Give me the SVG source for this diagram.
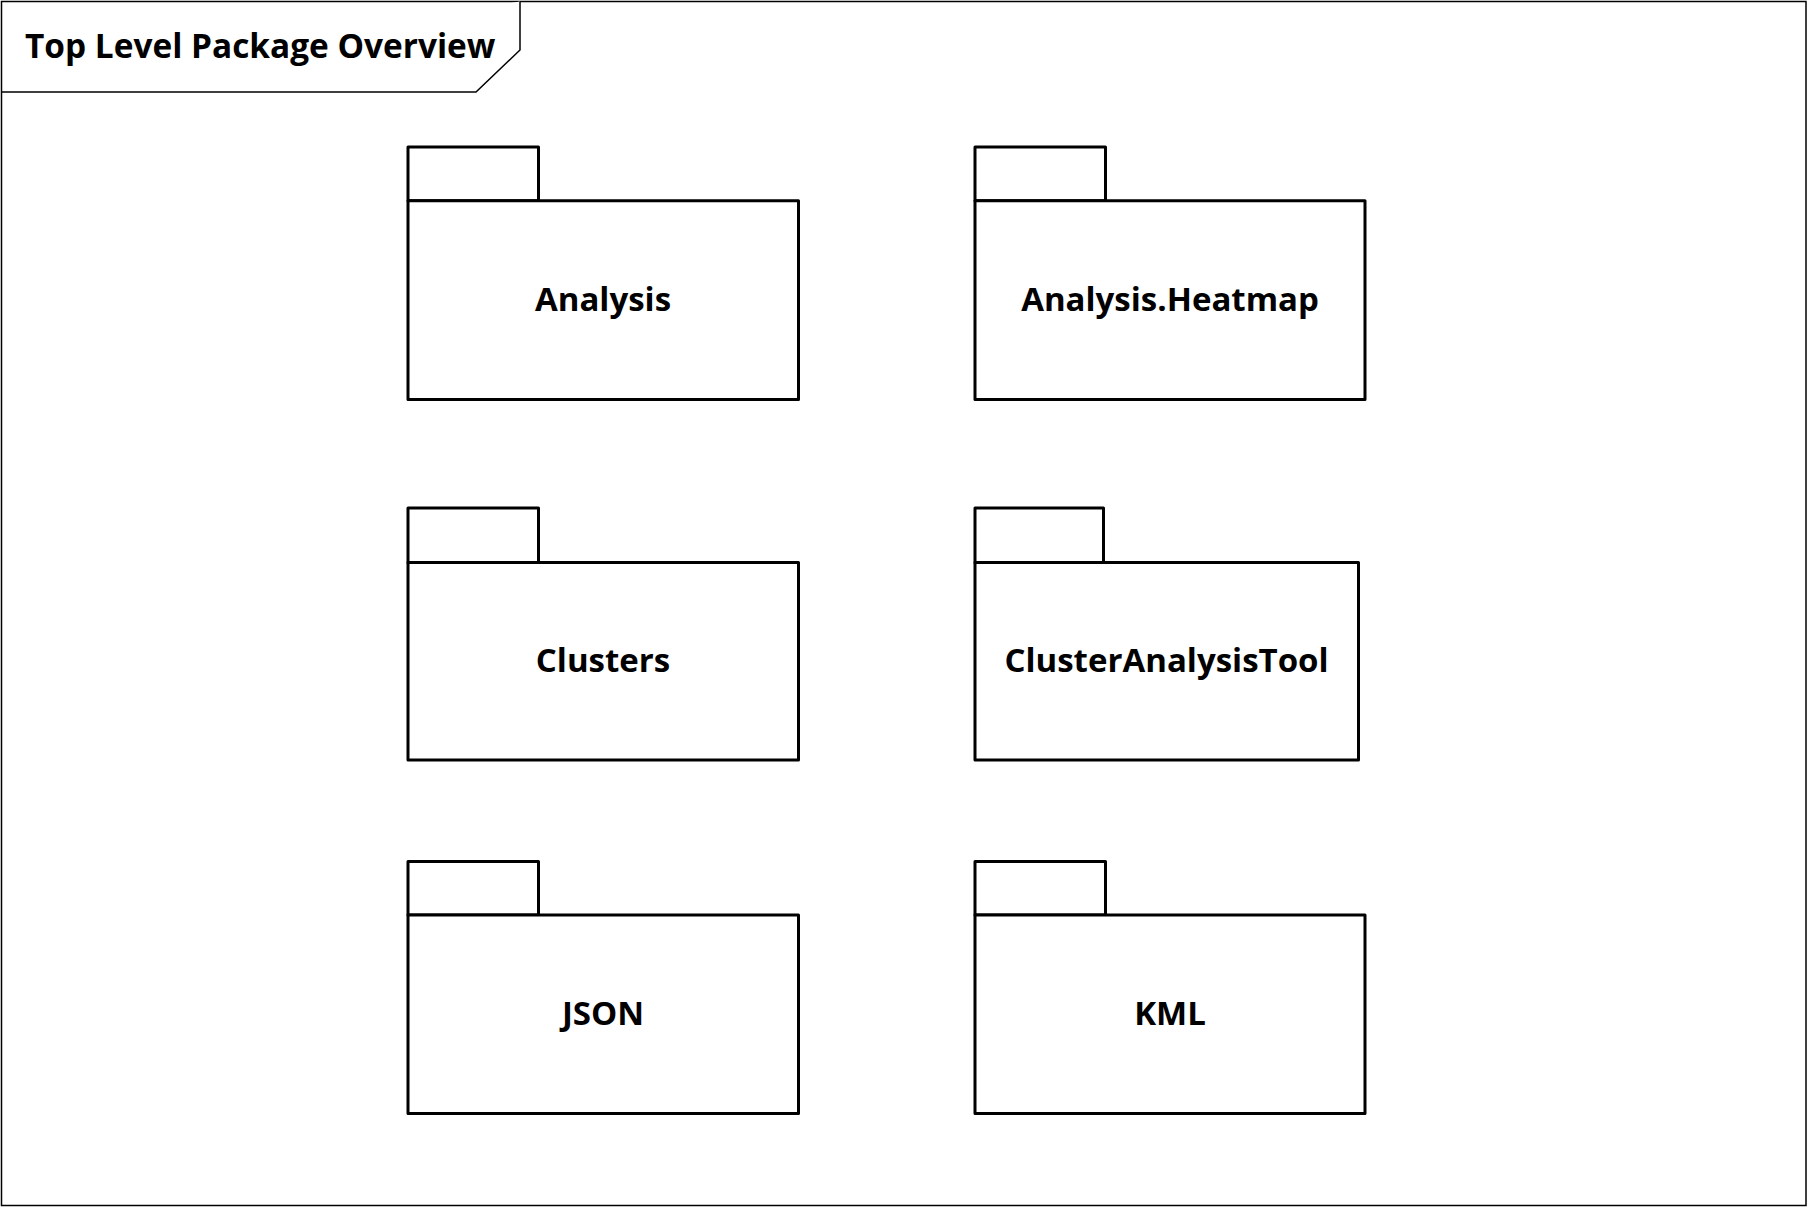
<svg xmlns="http://www.w3.org/2000/svg" width="1808" height="1208" viewBox="0 0 1808 1208">
<style>
.frame{fill:#ffffff;stroke:#000000;stroke-width:1.5}
.pk{fill:#ffffff;stroke:#000000;stroke-width:3;stroke-linejoin:round}
.lbl{font-family:"Open Sans","Noto Sans","Liberation Sans",sans-serif;font-weight:bold;font-size:33px;fill:#000000;text-anchor:middle}
.title{font-family:"Open Sans","Noto Sans","Liberation Sans",sans-serif;font-weight:bold;font-size:33.4px;fill:#000000}
</style>
<rect x="0" y="0" width="1808" height="1208" fill="#ffffff"/>
<g id="frame">
<rect class="frame" x="1.5" y="1.5" width="1804.5" height="1204"/>
<path class="frame" d="M1.5 92 L476 92 L520 50 L520 1.5"/>
<text class="title" x="25" y="58">Top Level Package Overview</text>
</g>
<g id="connectors"></g>
<g id="pkg-analysis">
<rect class="pk" x="408" y="147" width="130.5" height="53.7"/>
<rect class="pk" x="408" y="200.7" width="390.5" height="198.8"/>
<text class="lbl" x="603" y="311">Analysis</text>
</g>
<g id="pkg-heatmap">
<rect class="pk" x="975" y="147" width="130.5" height="53.7"/>
<rect class="pk" x="975" y="200.7" width="390" height="198.8"/>
<text class="lbl" x="1170" y="311">Analysis.Heatmap</text>
</g>
<g id="pkg-clusters">
<rect class="pk" x="408" y="508" width="130.5" height="54.5"/>
<rect class="pk" x="408" y="562.5" width="390.5" height="197.5"/>
<text class="lbl" x="603" y="672">Clusters</text>
</g>
<g id="pkg-cat">
<rect class="pk" x="975" y="508" width="128.5" height="54.5"/>
<rect class="pk" x="975" y="562.5" width="383.5" height="197.5"/>
<text class="lbl" x="1166.5" y="672">ClusterAnalysisTool</text>
</g>
<g id="pkg-json">
<rect class="pk" x="408" y="861.5" width="130.5" height="53.5"/>
<rect class="pk" x="408" y="915" width="390.5" height="198.5"/>
<text class="lbl" x="603" y="1025">JSON</text>
</g>
<g id="pkg-kml">
<rect class="pk" x="975" y="861.5" width="130.5" height="53.5"/>
<rect class="pk" x="975" y="915" width="390" height="198.5"/>
<text class="lbl" x="1170" y="1025">KML</text>
</g>
</svg>
